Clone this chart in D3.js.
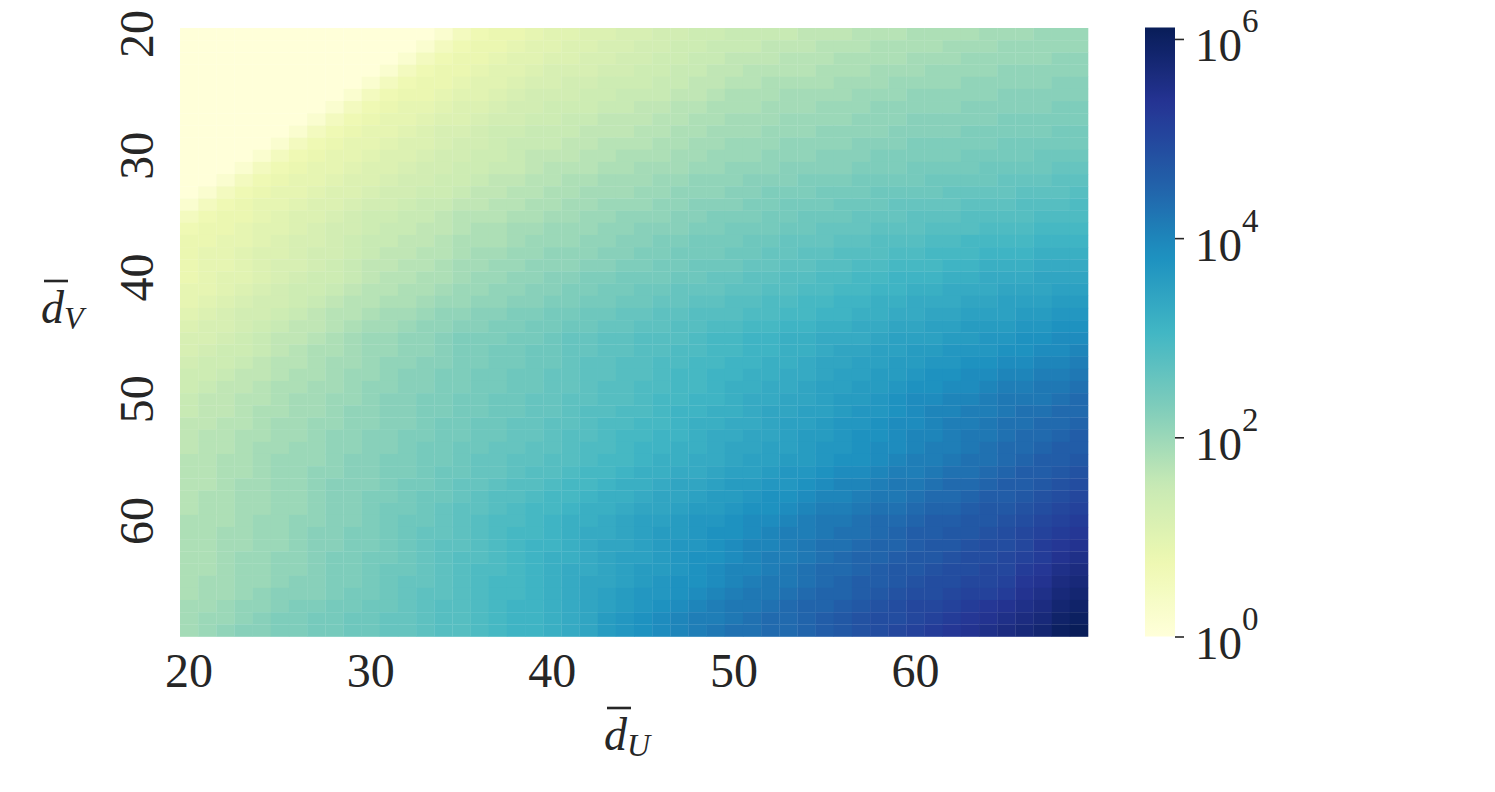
<!DOCTYPE html>
<html>
<head>
<meta charset="utf-8">
<script src="https://cdn.jsdelivr.net/npm/d3@7"></script>
<style>
  body { margin: 0; background: #fff; }
  text { font-family: "Liberation Serif", "Times New Roman", serif; fill: #262626; }
</style>
</head>
<body>
<svg id="chart"></svg>
<script>
// column / row categories (bar d_U along x, bar d_V along y)
const degreesU = [20,21,22,23,24,25,26,27,28,29,30,31,32,33,34,35,36,37,38,39,40,41,42,43,44,45,46,47,48,49,
                  50,51,52,53,54,55,56,57,58,59,60,61,62,63,64,65,66,67,68,69];
const degreesV = [20,21,22,23,24,25,26,27,28,29,30,31,32,33,34,35,36,37,38,39,40,41,42,43,44,45,46,47,48,49,
                  50,51,52,53,54,55,56,57,58,59,60,61,62,63,64,65,66,67,68,69];

const axisTicks = [20, 30, 40, 50, 60];
const colorbarExponents = [0, 2, 4, 6];

// log10 of the cell value, times ten.
// one row per d_V (20..69), one entry per d_U (20..69). 0 = at or below 10^0.
const logTenths = [
  [0,0,0,0,0, 0,0,0,0,0, 0,0,0,0,2, 5,7,8,8,9, 10,10,11,11,12, 12,13,13,14,14, 15,15,15,15,16, 16,16,17,17,17, 18,18,18,18,19, 19,19,20,20,20],
  [0,0,0,0,0, 0,0,0,0,0, 0,0,0,2,5, 7,8,8,9,10, 10,11,11,12,12, 13,13,14,14,15, 15,15,16,16,16, 17,17,17,18,18, 18,18,19,19,19, 20,20,20,20,20],
  [0,0,0,0,0, 0,0,0,0,0, 0,0,2,5,7, 8,8,9,10,10, 11,11,12,12,13, 13,14,14,15,15, 16,16,16,17,17, 17,18,18,18,18, 19,19,19,20,20, 20,20,20,21,21],
  [0,0,0,0,0, 0,0,0,0,0, 0,2,5,7,8, 8,9,10,10,11, 12,12,12,13,13, 14,14,15,15,16, 16,17,17,17,17, 18,18,18,19,19, 19,20,20,20,20, 21,21,21,21,21],
  [0,0,0,0,0, 0,0,0,0,0, 2,5,7,8,8, 9,10,10,11,12, 12,13,13,14,14, 14,15,15,16,16, 17,17,18,18,18, 18,19,19,19,20, 20,20,20,21,21, 21,21,21,22,22],
  [0,0,0,0,0, 0,0,0,0,2, 5,7,8,8,9, 10,10,11,12,13, 13,13,14,14,15, 15,15,16,16,17, 18,18,18,19,19, 19,19,20,20,20, 21,21,21,21,21, 22,22,22,22,22],
  [0,0,0,0,0, 0,0,0,2,5, 7,8,9,9,10, 11,11,12,13,13, 14,14,14,15,15, 16,16,17,17,18, 18,18,19,19,19, 20,20,20,21,21, 21,21,21,22,22, 22,22,22,23,23],
  [0,0,0,0,0, 0,0,2,5,7, 8,9,9,10,11, 11,12,13,13,14, 14,15,15,16,16, 16,17,17,18,18, 19,19,19,20,20, 20,20,21,21,21, 22,22,22,22,22, 23,23,23,23,23],
  [0,0,0,0,0, 0,2,5,7,8, 9,9,10,11,12, 12,13,14,14,15, 15,15,16,16,16, 17,17,18,18,19, 19,19,20,20,20, 21,21,21,21,22, 22,22,22,23,23, 23,23,23,24,24],
  [0,0,0,0,0, 2,5,7,8,9, 9,10,11,11,12, 13,13,14,15,15, 15,16,16,17,17, 17,18,18,19,19, 20,20,20,21,21, 21,21,22,22,22, 23,23,23,23,23, 24,24,24,24,24],
  [0,0,0,0,2, 5,7,8,9,9, 10,11,11,12,13, 13,14,14,15,16, 16,16,17,17,18, 18,18,19,19,20, 20,20,21,21,21, 22,22,22,23,23, 23,23,23,24,24, 24,24,25,25,25],
  [0,0,0,2,5, 7,8,9,9,10, 11,11,12,13,13, 14,14,15,15,16, 17,17,17,18,18, 19,19,19,20,20, 21,21,21,22,22, 22,22,23,23,23, 24,24,24,24,25, 25,25,25,26,26],
  [0,0,2,5,7, 8,9,9,10,11, 11,12,13,13,14, 14,15,16,16,17, 17,18,18,19,19, 19,20,20,21,21, 21,22,22,22,23, 23,23,24,24,24, 24,25,25,25,25, 26,26,26,27,27],
  [0,2,5,7,8, 9,9,10,11,11, 12,13,13,14,14, 15,16,16,17,17, 18,18,19,19,19, 20,20,21,21,21, 22,22,23,23,23, 24,24,24,25,25, 25,25,26,26,26, 26,27,27,27,28],
  [2,5,7,8,9, 9,10,11,11,12, 13,13,14,15,15, 16,16,17,17,18, 18,19,19,20,20, 20,21,21,22,22, 22,23,23,24,24, 24,25,25,25,26, 26,26,26,27,27, 27,28,28,28,29],
  [5,7,8,8,9, 10,11,11,12,13, 14,14,15,15,16, 17,17,17,18,18, 19,19,20,20,21, 21,21,22,22,23, 23,23,24,24,25, 25,25,26,26,26, 27,27,27,28,28, 28,28,29,29,29],
  [7,8,8,9,10, 10,11,12,13,13, 14,15,15,16,16, 17,18,18,19,19, 20,20,20,21,21, 22,22,22,23,23, 24,24,24,25,25, 26,26,26,27,27, 27,28,28,28,29, 29,29,30,30,30],
  [8,8,9,9,10, 11,12,12,13,14, 15,15,16,16,17, 18,18,18,19,20, 20,20,21,21,22, 22,23,23,24,24, 24,25,25,26,26, 26,27,27,28,28, 28,29,29,30,30, 30,30,31,31,31],
  [8,9,9,10,11, 11,12,13,13,14, 15,16,16,17,17, 18,19,19,20,20, 21,21,21,22,22, 23,23,24,24,24, 25,25,26,26,27, 27,28,28,28,29, 29,30,30,30,31, 31,31,32,32,32],
  [8,9,9,10,11, 12,12,13,14,15, 16,16,17,17,18, 19,19,20,20,21, 21,21,22,22,23, 23,24,24,25,25, 25,26,26,27,27, 28,28,29,29,30, 30,30,31,31,32, 32,32,33,33,33],
  [8,9,10,10,11, 12,13,14,14,15, 16,17,17,18,18, 19,20,20,21,21, 22,22,23,23,24, 24,24,25,25,26, 26,27,27,28,28, 29,29,30,30,31, 31,31,32,32,33, 33,33,34,34,34],
  [9,9,10,11,12, 13,14,14,15,16, 17,17,18,18,19, 20,20,21,21,22, 22,23,23,24,24, 25,25,26,26,26, 27,27,28,28,29, 29,30,30,31,31, 32,32,33,33,33, 34,34,34,35,35],
  [9,10,11,12,13, 13,14,15,16,17, 17,18,18,19,20, 20,21,21,22,22, 23,23,24,24,25, 25,26,26,27,27, 28,28,29,29,30, 30,31,31,32,32, 33,33,33,34,34, 35,35,35,36,36],
  [10,11,12,13,13, 14,15,16,17,17, 18,19,19,20,21, 21,22,22,23,23, 24,24,25,25,26, 26,27,27,28,28, 28,29,29,30,30, 31,31,32,32,33, 33,34,34,35,35, 35,36,36,37,37],
  [11,12,12,13,14, 15,16,16,17,18, 19,19,20,21,21, 22,22,23,23,24, 24,25,25,26,26, 27,27,28,28,29, 29,30,30,31,31, 32,32,33,33,34, 34,35,35,36,36, 36,37,37,38,38],
  [12,12,13,14,15, 16,16,17,18,19, 20,20,21,21,22, 23,23,23,24,24, 25,26,26,27,27, 28,28,28,29,30, 30,31,31,32,32, 33,33,33,34,35, 35,35,36,36,37, 37,38,38,39,39],
  [12,13,14,14,15, 16,17,18,18,19, 20,20,21,21,22, 23,23,24,24,25, 25,26,26,27,27, 28,28,29,29,30, 30,31,31,32,32, 33,34,34,35,35, 36,36,37,37,37, 38,38,39,39,40],
  [13,14,14,15,16, 17,17,18,19,19, 20,21,21,22,22, 23,23,24,24,25, 25,26,27,27,28, 28,29,29,30,30, 31,31,32,32,33, 34,34,35,35,36, 36,37,37,38,38, 39,39,40,40,41],
  [14,14,15,16,16, 17,18,18,19,20, 20,21,22,22,23, 23,24,24,25,25, 26,26,27,27,28, 28,29,30,30,31, 31,32,32,33,33, 34,35,35,36,36, 37,38,38,39,39, 40,40,41,41,42],
  [14,15,16,16,17, 18,18,19,19,20, 21,21,22,22,23, 23,24,24,25,25, 26,26,27,28,28, 29,29,30,30,31, 32,32,33,33,34, 35,35,36,36,37, 38,38,39,39,40, 41,41,42,42,43],
  [15,16,16,17,17, 18,19,19,20,20, 21,22,22,23,23, 24,24,25,25,26, 26,27,27,28,28, 29,30,30,31,31, 32,33,33,34,34, 35,36,36,37,38, 39,39,40,40,41, 42,42,42,43,44],
  [15,16,16,17,18, 18,19,19,20,21, 21,22,22,23,23, 24,24,25,25,26, 26,27,28,28,29, 29,30,31,31,32, 32,33,34,34,35, 35,36,37,37,38, 39,40,40,41,41, 42,43,43,44,44],
  [16,16,17,17,18, 19,19,20,20,21, 21,22,22,23,24, 24,25,25,26,26, 27,27,28,29,29, 30,30,31,32,32, 33,33,34,35,35, 36,37,37,38,39, 39,40,41,41,42, 43,43,44,44,45],
  [16,17,17,18,18, 19,19,20,21,21, 22,22,23,23,24, 24,25,25,26,26, 27,28,28,29,30, 30,31,31,32,33, 33,34,34,35,36, 36,37,38,38,39, 40,40,41,42,42, 43,44,44,45,46],
  [16,17,17,18,19, 19,20,20,21,21, 22,22,23,24,24, 25,25,26,26,27, 27,28,29,29,30, 31,31,32,32,33, 34,34,35,35,36, 37,37,38,39,39, 40,41,41,42,43, 44,44,45,46,46],
  [17,17,18,18,19, 20,20,20,21,22, 22,23,23,24,24, 25,26,26,27,27, 28,28,29,30,30, 31,32,32,33,33, 34,35,35,36,36, 37,38,38,39,40, 41,41,42,43,43, 44,45,46,46,47],
  [17,17,18,18,19, 20,20,21,21,22, 22,23,23,24,25, 25,26,26,27,28, 28,29,30,30,31, 32,32,33,33,34, 35,35,36,37,37, 38,39,39,40,41, 41,42,43,43,44, 45,46,46,47,48],
  [17,17,18,19,19, 20,20,21,22,22, 22,23,24,24,25, 26,26,27,28,28, 29,30,30,31,32, 32,33,34,34,35, 36,36,37,37,38, 39,40,40,41,42, 42,43,44,44,45, 46,46,47,48,49],
  [17,18,18,19,19, 20,20,21,22,22, 23,23,24,25,25, 26,27,28,28,29, 30,30,31,32,32, 33,34,34,35,36, 36,37,38,38,39, 40,40,41,42,42, 43,44,44,45,46, 46,47,48,49,50],
  [17,18,18,19,19, 20,20,21,22,22, 23,24,24,25,26, 27,27,28,29,30, 30,31,32,32,33, 34,34,35,36,36, 37,38,38,39,40, 41,41,42,43,43, 44,45,45,46,47, 47,48,49,50,51],
  [18,18,18,19,20, 20,21,21,22,22, 23,24,25,25,26, 27,28,29,29,30, 31,32,32,33,34, 35,35,36,37,37, 38,39,39,40,41, 42,42,43,44,44, 45,46,46,47,47, 48,49,50,51,52],
  [18,18,19,19,20, 20,21,22,22,23, 23,24,25,26,26, 27,28,29,30,30, 31,32,33,33,34, 35,36,36,37,38, 38,39,40,41,41, 42,43,43,44,45, 46,46,47,47,48, 49,50,51,52,53],
  [18,18,19,19,20, 20,21,22,22,23, 23,24,25,26,27, 27,28,29,30,31, 31,32,33,34,34, 35,36,37,37,38, 39,40,40,41,42, 43,43,44,45,45, 46,47,47,48,49, 49,50,52,53,54],
  [18,18,19,20,20, 21,21,22,23,23, 24,24,25,26,27, 28,28,29,30,31, 32,32,33,34,35, 35,36,37,38,38, 39,40,41,41,42, 43,44,45,45,46, 47,47,48,49,49, 50,51,52,54,55],
  [18,18,19,20,20, 21,21,22,23,23, 24,25,25,26,27, 28,29,29,30,31, 32,33,33,34,35, 36,36,37,38,39, 40,40,41,42,43, 44,44,45,46,47, 47,48,49,49,50, 50,52,53,55,56],
  [18,19,19,20,20, 21,22,22,23,23, 24,25,26,26,27, 28,29,30,30,31, 32,33,34,34,35, 36,37,38,38,39, 40,41,42,42,43, 44,45,46,46,47, 48,49,49,50,50, 51,53,54,56,57],
  [18,19,19,20,21, 22,22,22,23,24, 24,25,26,27,27, 28,29,30,30,31, 32,33,34,35,36, 37,37,38,39,40, 41,42,42,43,44, 45,45,46,47,48, 49,49,50,51,51, 52,54,55,57,58],
  [19,19,20,21,21, 22,23,23,24,24, 25,25,26,27,28, 28,29,30,31,31, 32,33,34,35,36, 37,38,39,40,41, 42,42,43,44,45, 45,46,47,48,49, 50,50,51,52,53, 54,55,56,58,59],
  [19,20,20,21,22, 23,23,24,24,25, 25,26,26,27,28, 28,29,30,31,31, 32,33,34,36,37, 38,39,40,41,41, 42,43,44,44,45, 46,47,48,49,49, 50,51,52,53,54, 55,56,57,59,60],
  [19,20,21,22,22, 23,23,24,24,25, 25,26,26,27,28, 28,29,30,31,31, 32,33,34,36,37, 38,39,40,41,42, 43,43,44,44,45, 46,47,48,49,50, 51,52,53,54,55, 56,57,58,60,61]
];

// matplotlib YlGnBu nodes
const YLGNBU = ['#ffffd9', '#edf8b1', '#c7e9b4', '#7fcdbb', '#41b6c4', '#1d91c0', '#225ea8', '#253494', '#081d58'];

class HeatmapChart {

  constructor(config) {
    this.config = config;
    this.svg = null;
    this.xScale = null;
    this.yScale = null;
    this.color = null;
    this.drawChart();
  }

  drawChart() {
    this.initSvg();
    this.initScales();
    this.drawCells();
    this.drawAxis();
    this.drawTitles();
    this.drawColorbar();
  }

  initSvg() {
    this.svg = d3.select(this.config.element)
        .attr('width', this.config.width)
        .attr('height', this.config.height);
  }

  initScales() {
    const p = this.config.plot;
    this.xScale = d3.scaleBand().domain(degreesU).range([p.left, p.right]).padding(0);
    this.yScale = d3.scaleBand().domain(degreesV).range([p.top, p.bottom]).padding(0);

    const vmax = this.config.logMax;
    this.color = d3.scaleLinear()
        .domain(YLGNBU.map((c, i) => i * vmax / (YLGNBU.length - 1)))
        .range(YLGNBU)
        .interpolate(d3.interpolateRgb)
        .clamp(true);
  }

  drawCells() {
    const cells = [];
    logTenths.forEach((row, i) => {
      row.forEach((v, j) => cells.push({u: degreesU[j], v: degreesV[i], log: v / 10}));
    });

    this.svg.append('g')
        .selectAll('rect')
        .data(cells)
        .enter()
        .append('rect')
        .attr('x', (d) => this.xScale(d.u))
        .attr('y', (d) => this.yScale(d.v))
        .attr('width', this.xScale.bandwidth() + 0.3)
        .attr('height', this.yScale.bandwidth() + 0.3)
        .attr('fill', (d) => this.color(d.log));
  }

  drawAxis() {
    const p = this.config.plot;
    const half = (s) => s.bandwidth() / 2;

    const xAxis = this.svg.append('g')
        .attr('transform', 'translate(0,' + p.bottom + ')')
        .call(d3.axisBottom(this.xScale).tickValues(axisTicks).tickSize(0).tickPadding(16));
    xAxis.select('.domain').remove();
    xAxis.selectAll('text')
        .attr('fill', '#262626')
        .style('font-size', '48px');

    const yAxis = this.svg.append('g')
        .attr('transform', 'translate(' + p.left + ',0)')
        .call(d3.axisLeft(this.yScale).tickValues(axisTicks).tickSize(0));
    yAxis.select('.domain').remove();
    yAxis.selectAll('text')
        .attr('x', 0)
        .attr('dy', 0)
        .attr('transform', 'translate(-27,0) rotate(-90)')
        .attr('fill', '#262626')
        .style('text-anchor', 'middle')
        .style('font-size', '48px');
  }

  drawTitle(x, y, sub) {
    const g = this.svg.append('g');
    const t = g.append('text')
        .attr('x', x)
        .attr('y', y)
        .style('font-size', '46px')
        .style('font-style', 'italic');
    t.append('tspan').text('d');
    t.append('tspan')
        .attr('dy', 6)
        .style('font-size', '32px')
        .text(sub);
    g.append('line')
        .attr('x1', x + 3)
        .attr('x2', x + 27)
        .attr('y1', y - 42)
        .attr('y2', y - 42)
        .attr('stroke', '#262626')
        .attr('stroke-width', 2.6);
  }

  drawTitles() {
    this.drawTitle(604, 750, 'U');
    this.drawTitle(41, 323, 'V');
  }

  drawColorbar() {
    const cb = this.config.colorbar;
    const vmax = this.config.logMax;
    const cbScale = d3.scaleLinear().domain([0, vmax]).range([cb.bottom, cb.top]);

    const grad = this.svg.append('defs')
        .append('linearGradient')
        .attr('id', 'cbGradient')
        .attr('x1', 0).attr('y1', 1)
        .attr('x2', 0).attr('y2', 0);
    grad.selectAll('stop')
        .data(d3.range(0, 1.0001, 0.02))
        .enter()
        .append('stop')
        .attr('offset', (d) => d)
        .attr('stop-color', (d) => this.color(d * vmax));

    this.svg.append('rect')
        .attr('x', cb.left)
        .attr('y', cb.top)
        .attr('width', cb.width)
        .attr('height', cb.bottom - cb.top)
        .attr('fill', 'url(#cbGradient)');

    const axis = this.svg.append('g')
        .attr('transform', 'translate(' + (cb.left + cb.width) + ',0)')
        .call(d3.axisRight(cbScale).tickValues(colorbarExponents).tickSize(9).tickFormat(() => ''));
    axis.select('.domain').remove();
    axis.selectAll('line')
        .attr('stroke', '#262626')
        .attr('stroke-width', 1.6);

    axis.selectAll('.tick').each(function(d) {
      const g = d3.select(this);
      g.append('text')
          .attr('x', 20)
          .attr('y', 22)
          .attr('fill', '#262626')
          .style('font-size', '47px')
          .style('text-anchor', 'start')
          .text('10');
      g.append('text')
          .attr('x', 67)
          .attr('y', -7)
          .attr('fill', '#262626')
          .style('font-size', '33px')
          .style('text-anchor', 'start')
          .text(d);
    });
  }
}

new HeatmapChart({
  element: '#chart',
  width: 1495,
  height: 792,
  logMax: 6.115,
  plot: {left: 180, right: 1088, top: 28, bottom: 636.5},
  colorbar: {left: 1145, width: 30, top: 27.5, bottom: 636.5}
});
</script>
</body>
</html>
